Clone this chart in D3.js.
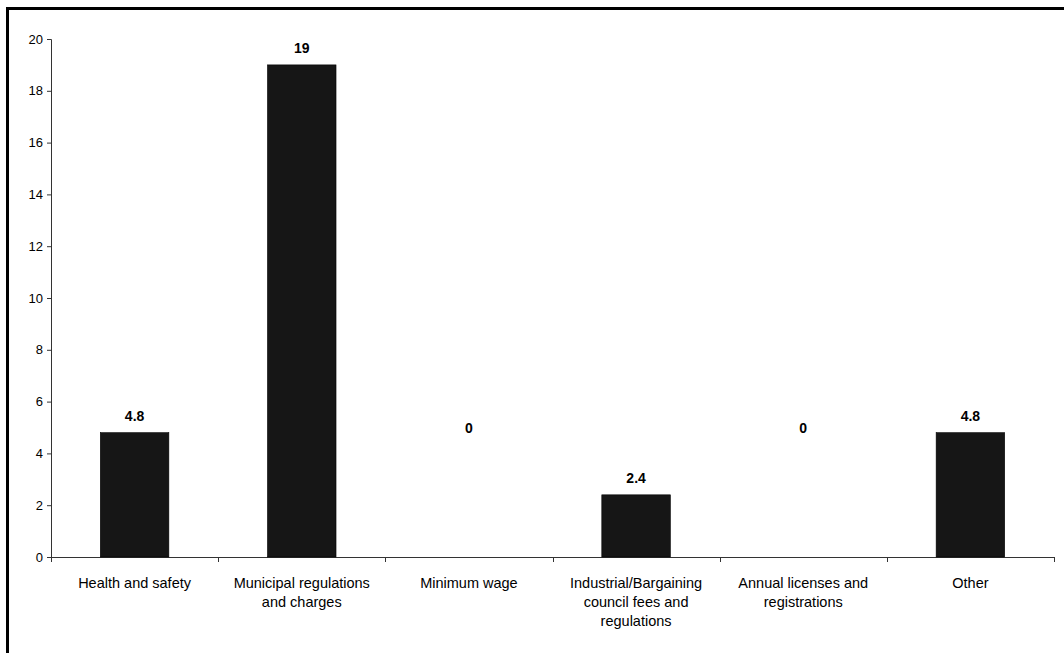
<!DOCTYPE html>
<html>
<head>
<meta charset="utf-8">
<script src="https://cdn.jsdelivr.net/npm/d3@7"></script>
<style>
  html, body { margin: 0; padding: 0; background: #fff; }
  svg { display: block; }
  text { font-family: "Liberation Sans", Arial, sans-serif; fill: #000; }
</style>
</head>
<body>
<svg id="chart" width="1064" height="653"></svg>
<script>
// Categories (line breaks mark how the axis labels wrap)
const categories = [
  "Health and safety",
  "Municipal regulations\nand charges",
  "Minimum wage",
  "Industrial/Bargaining\ncouncil fees and\nregulations",
  "Annual licenses and\nregistrations",
  "Other"
];
// Percentage of respondents per category
const values = [4.8, 19, 0, 2.4, 0, 4.8];
// Y axis tick values
const yTicks = [0, 2, 4, 6, 8, 10, 12, 14, 16, 18, 20];

const svg = d3.select("#chart");
const W = 1064, H = 653;
const plot = { left: 51, right: 1054, top: 39, bottom: 557 };

// Outer frame (open on the right and bottom, running off the page)
svg.append("rect")
  .attr("x", 7.5).attr("y", 8.5)
  .attr("width", W + 20).attr("height", H + 20)
  .attr("fill", "none").attr("stroke", "#000").attr("stroke-width", 3);

const x = d3.scaleBand()
  .domain(categories)
  .range([plot.left, plot.right])
  .paddingInner(0.59)
  .paddingOuter(0.295);

const y = d3.scaleLinear()
  .domain([0, 20])
  .range([plot.bottom, plot.top]);

// Y axis
const yAxis = svg.append("g")
  .attr("transform", `translate(${plot.left},0)`)
  .call(d3.axisLeft(y).tickValues(yTicks).tickSize(4).tickPadding(4).tickFormat(d3.format("d")));
yAxis.select(".domain").attr("stroke", "#333").attr("d", `M-4,${y(20) + 0.5}H0.5V${y(0) + 0.5}`);
yAxis.selectAll(".tick line").attr("stroke", "#333");
yAxis.selectAll(".tick text")
  .style("font-family", "'Liberation Sans', Arial, sans-serif")
  .style("font-size", "13px").attr("fill", "#000");

// X axis line with ticks on category boundaries
const step = x.step();
const boundaries = d3.range(categories.length + 1).map(i => plot.left + i * step);
const xg = svg.append("g");
xg.append("line")
  .attr("x1", plot.left).attr("x2", plot.right)
  .attr("y1", y(0) + 0.5).attr("y2", y(0) + 0.5)
  .attr("stroke", "#333");
xg.selectAll("line.tick").data(boundaries).join("line")
  .attr("class", "tick")
  .attr("x1", d => Math.round(d) + 0.5).attr("x2", d => Math.round(d) + 0.5)
  .attr("y1", y(0)).attr("y2", y(0) + 5)
  .attr("stroke", "#333");

// Bars
svg.append("g").selectAll("rect").data(values).join("rect")
  .attr("x", (d, i) => x(categories[i]))
  .attr("width", x.bandwidth())
  .attr("y", d => y(d))
  .attr("height", d => y(0) - y(d))
  .attr("fill", "#161616")
  .attr("stroke", "#000")
  .attr("stroke-width", 0.6);

// Value labels above each bar; empty bars show their label at a fixed height
svg.append("g").selectAll("text").data(values).join("text")
  .attr("x", (d, i) => x(categories[i]) + x.bandwidth() / 2)
  .attr("y", d => d > 0 ? y(d) - 12 : y(4.8))
  .attr("text-anchor", "middle")
  .style("font-size", "14px")
  .style("font-weight", "bold")
  .text(d => d3.format("~g")(d));

// Category labels, wrapped over several lines
const cat = svg.append("g").selectAll("text").data(categories).join("text")
  .attr("x", d => x(d) + x.bandwidth() / 2)
  .attr("y", 588)
  .attr("text-anchor", "middle")
  .style("font-size", "14.5px");
cat.each(function(d) {
  const t = d3.select(this);
  d.split("\n").forEach((line, i) => {
    t.append("tspan")
      .attr("x", t.attr("x"))
      .attr("dy", i === 0 ? 0 : 19)
      .text(line);
  });
});
</script>
</body>
</html>
